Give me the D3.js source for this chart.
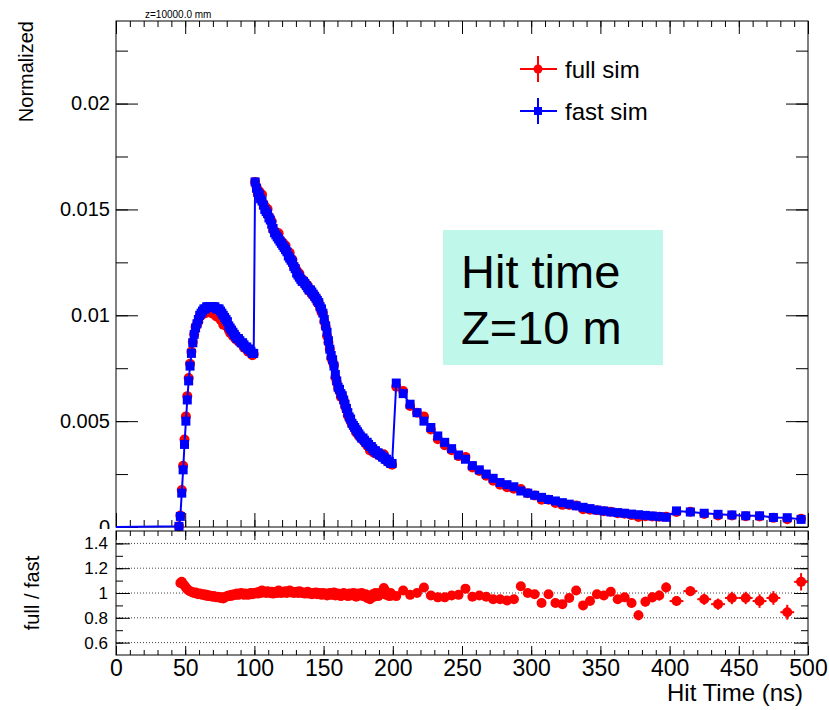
<!DOCTYPE html>
<html>
<head>
<meta charset="utf-8">
<script src="https://cdn.jsdelivr.net/npm/d3@7"></script>
<style>
  body { margin: 0; background: #fff; }
  text { font-family: "Liberation Sans", Arial, Helvetica, sans-serif; fill: #000; }
</style>
</head>
<body>
<div id="chart"></div>
<script>
// bin layout: three segments with different widths (ns)
var segStart = [45, 200, 400];
var segWidth = [1, 5, 10];

// fast sim, normalized, 1 ns bins 45..200
var fastDense = [
  0.00003, 0.0005, 0.0016, 0.0027, 0.0039,
  0.0050, 0.0060, 0.0069, 0.0076, 0.0082,
  0.0087, 0.0091, 0.0094, 0.0096, 0.0098,
  0.0100, 0.0101, 0.0102, 0.0103, 0.0103,
  0.0104, 0.0104, 0.0104, 0.0104, 0.0104,
  0.0104, 0.0104, 0.0103, 0.0103, 0.0103,
  0.0102, 0.0101, 0.0100, 0.0099, 0.0098,
  0.0097, 0.0095, 0.0094, 0.0093, 0.0092,
  0.0091, 0.0090, 0.0089, 0.0089, 0.0088,
  0.0087, 0.0087, 0.0086, 0.0085, 0.0085,
  0.0084, 0.0084, 0.0083, 0.0082, 0.0082,
  0.0163, 0.0160, 0.0158, 0.0157, 0.0155,
  0.0154, 0.0152, 0.0150, 0.0149, 0.0148,
  0.0146, 0.0145, 0.0143, 0.0141, 0.0139,
  0.0138, 0.0137, 0.0136, 0.0135, 0.0134,
  0.0133, 0.0132, 0.0131, 0.0130, 0.0128,
  0.0127, 0.0126, 0.0125, 0.0123, 0.0122,
  0.0120, 0.0119, 0.0118, 0.0117, 0.0116,
  0.0116, 0.0115, 0.0114, 0.0113, 0.0112,
  0.0112, 0.0111, 0.0110, 0.0109, 0.0108,
  0.0107, 0.0106, 0.0104, 0.0103, 0.0101,
  0.0098, 0.0095, 0.0092, 0.0088, 0.0084,
  0.0081, 0.0079, 0.0076, 0.0072, 0.0069,
  0.0066, 0.0065, 0.0063, 0.0062, 0.0060,
  0.0058, 0.0056, 0.0054, 0.0052, 0.0051,
  0.0049, 0.0048, 0.0047, 0.0046, 0.0045,
  0.0044, 0.0043, 0.0042, 0.0042, 0.0041,
  0.0040, 0.0040, 0.0039, 0.0038, 0.0038,
  0.0037, 0.0036, 0.0036, 0.0035, 0.0035,
  0.0034, 0.0034, 0.0033, 0.0033, 0.0032,
  0.0032, 0.0031, 0.0031, 0.0030, 0.0030
];
// 5 ns bins 200..400
var fastMid = [
  0.0068, 0.0063, 0.0058, 0.0054, 0.0050,
  0.0047, 0.0043, 0.0040, 0.0037, 0.0034,
  0.0032, 0.0029, 0.0027, 0.0025, 0.0023,
  0.0021, 0.0020, 0.0019, 0.0017, 0.0016,
  0.0015, 0.0014, 0.0013, 0.00123, 0.00115,
  0.00108, 0.0010, 0.00093, 0.00087, 0.0008,
  0.00076, 0.00071, 0.00068, 0.00065, 0.00061,
  0.00058, 0.00055, 0.00052, 0.00049, 0.00046
];
// 10 ns bins 400..500
var fastTail = [0.00076, 0.00071, 0.00065, 0.0006, 0.00057, 0.00053, 0.00053, 0.00045, 0.00044, 0.00036];

// full / fast ratio per bin (null = empty)
var ratioDense = [
  null, 1.08, 1.09, 1.07, 1.06,
  1.045, 1.03, 1.02, 1.015, 1.01,
  1.005, 1.0, 1.005, 0.995, 0.99,
  0.995, 0.99, 0.985, 0.99, 0.98,
  0.985, 0.975, 0.98, 0.975, 0.97,
  0.975, 0.97, 0.965, 0.97, 0.965,
  0.96, 0.965, 0.955, 0.965, 0.97,
  0.975, 0.98, 0.975, 0.985, 0.98,
  0.99, 0.985, 0.995, 0.985, 0.99,
  1.0, 0.99, 0.985, 0.995, 0.99,
  0.985, 0.995, 1.0, 0.99, 0.995,
  1.0, 1.005, 0.995, 1.01, 1.0,
  1.02, 1.005, 1.01, 1.0, 1.015,
  1.005, 1.0, 1.01, 0.995, 1.005,
  1.01, 1.0, 1.02, 1.005, 1.0,
  1.01, 1.005, 1.015, 1.0, 1.01,
  1.02, 1.005, 1.01, 1.0, 1.005,
  1.01, 1.0, 1.015, 1.005, 1.0,
  1.005, 0.995, 1.0, 1.01, 0.995,
  1.0, 0.99, 1.0, 0.995, 1.005,
  0.99, 1.0, 0.995, 0.985, 1.0,
  0.99, 0.995, 0.98, 0.99, 1.0,
  0.985, 0.99, 1.005, 0.98, 0.99,
  0.995, 0.985, 0.975, 0.99, 1.0,
  0.985, 0.99, 0.975, 0.995, 0.98,
  0.99, 1.0, 0.985, 0.97, 0.995,
  0.98, 0.99, 1.0, 0.975, 0.985,
  0.99, 0.96, 0.975, 0.95, 0.98,
  0.99, 0.97, 1.0, 0.985, 0.975,
  1.0, 0.99, 1.01, 1.04, 1.02,
  0.985, 0.99, 0.975, 1.0, 0.98
];
var ratioMid = [
  0.975, 1.02, 0.985, 1.0, 1.045,
  0.98, 0.965, 0.965, 0.98, 0.985,
  1.035, 0.97, 0.98, 0.97, 0.95,
  0.95, 0.94, 0.95, 1.055, 1.0,
  0.99, 0.92, 0.99, 0.92, 0.91,
  0.96, 1.02, 0.90, 0.935, 0.99,
  0.98, 1.01, 0.95, 0.965, 0.92,
  0.82, 0.93, 0.965, 0.98, 1.045
];
var ratioTail = [0.935, 1.015, 0.95, 0.91, 0.96, 0.96, 0.935, 0.96, 0.845, 1.09];

// ratio uncertainties
var ratioErrDense = 0.02;
var ratioErrMid = [
  0.02, 0.02, 0.02, 0.02, 0.02, 0.02, 0.02, 0.02, 0.02, 0.02,
  0.025, 0.025, 0.025, 0.025, 0.025, 0.025, 0.025, 0.025, 0.025, 0.025,
  0.03, 0.03, 0.03, 0.03, 0.03, 0.03, 0.03, 0.03, 0.03, 0.03,
  0.035, 0.035, 0.035, 0.035, 0.04, 0.04, 0.04, 0.04, 0.04, 0.04
];
var ratioErrTail = [0.04, 0.04, 0.045, 0.045, 0.05, 0.05, 0.055, 0.055, 0.06, 0.07];

var xTicks = d3.range(0, 501, 50);
var yTicks = [0, 0.005, 0.01, 0.015, 0.02];
var rTicks = [0.6, 0.8, 1, 1.2, 1.4];

var red = "#ff0000", blue = "#0000ff";

// build bins
var fastSegs = [fastDense, fastMid, fastTail],
    ratioSegs = [ratioDense, ratioMid, ratioTail],
    errSegs = [null, ratioErrMid, ratioErrTail];
var bins = [];
fastSegs.forEach(function(vals, s) {
    vals.forEach(function(v, i) {
        var r = ratioSegs[s][i];
        bins.push({
            x: segStart[s] + segWidth[s] * (i + 0.5),
            w: segWidth[s],
            fast: v,
            ratio: r,
            full: v * (r == null ? 1 : r),
            err: errSegs[s] ? errSegs[s][i] : ratioErrDense
        });
    });
});

var W = 829, H = 710;
var left = 116, right = 808;
var mainTop = 21, mainBot = 527;
var ratTop = 531, ratBot = 655;

var svg = d3.select("#chart").append("svg")
    .attr("width", W).attr("height", H);
svg.append("rect").attr("width", W).attr("height", H).attr("fill", "#fff");

var x = d3.scaleLinear().domain([0, 500]).range([left, right]);
var y = d3.scaleLinear().domain([0, 0.0239]).range([mainBot, mainTop]);
var yr = d3.scaleLinear().domain([0.5, 1.5]).range([ratBot, ratTop]);

//////////// main pad ////////////
var main = svg.append("g");

function tickAxis(g, axis) {
    g.call(axis);
    g.select(".domain").remove();
    g.selectAll(".tick line").attr("stroke", "#000");
    g.attr("font-family", null).attr("font-size", null);
}

main.append("g").attr("transform", "translate(0," + mainBot + ")")
    .call(tickAxis, d3.axisBottom(x).tickValues(xTicks).tickSize(-14).tickFormat(""));
main.append("g").attr("transform", "translate(0," + mainBot + ")")
    .call(tickAxis, d3.axisBottom(x).tickValues(d3.range(0, 501, 10)).tickSize(-7).tickFormat(""));
main.append("g").attr("transform", "translate(0," + mainTop + ")")
    .call(tickAxis, d3.axisTop(x).tickValues(xTicks).tickSize(-13).tickFormat(""));
main.append("g").attr("transform", "translate(0," + mainTop + ")")
    .call(tickAxis, d3.axisTop(x).tickValues(d3.range(0, 501, 10)).tickSize(-6).tickFormat(""));

// clip so the "0" label is cut by the ratio pad, as in ROOT
// (clip rect is in the label group's local coords, shifted by `left`)
svg.append("clipPath").attr("id", "mainclip")
    .append("rect").attr("x", -left).attr("y", 0).attr("width", W).attr("height", 529);

var yMinor = d3.range(0, 0.0239, 0.0025);
main.append("g").attr("class", "ylab").attr("transform", "translate(" + left + ",0)")
    .attr("clip-path", "url(#mainclip)")
    .call(tickAxis, d3.axisLeft(y).tickValues(yTicks).tickSize(-22).tickPadding(6)
        .tickFormat(function(d) { return d === 0 ? "0" : String(+d.toFixed(4)); }));
main.append("g").attr("transform", "translate(" + left + ",0)")
    .call(tickAxis, d3.axisLeft(y).tickValues(yMinor).tickSize(-12).tickFormat(""));
main.append("g").attr("transform", "translate(" + right + ",0)")
    .call(tickAxis, d3.axisRight(y).tickValues(yTicks).tickSize(-22).tickFormat(""));
main.append("g").attr("transform", "translate(" + right + ",0)")
    .call(tickAxis, d3.axisRight(y).tickValues(yMinor).tickSize(-12).tickFormat(""));
main.selectAll(".ylab .tick text").style("font-size", "20px");

main.append("rect")
    .attr("x", left).attr("y", mainTop)
    .attr("width", right - left).attr("height", mainBot - mainTop)
    .attr("fill", "none").attr("stroke", "#000").attr("stroke-width", 1);

// full sim circles (under)
main.selectAll(".full")
    .data(bins.filter(function(d) { return d.full > 0; }))
    .enter().append("circle")
    .attr("class", "full")
    .attr("cx", function(d) { return x(d.x); })
    .attr("cy", function(d) { return y(d.full); })
    .attr("r", 5)
    .attr("fill", red);

// fast sim line + squares
var linePts = [[0, 0]].concat(bins.map(function(d) { return [d.x, d.fast]; }));
main.append("path")
    .attr("d", d3.line().x(function(d) { return x(d[0]); }).y(function(d) { return y(d[1]); })(linePts))
    .attr("fill", "none")
    .attr("stroke", blue)
    .attr("stroke-width", 2);

main.selectAll(".fast")
    .data(bins)
    .enter().append("rect")
    .attr("class", "fast")
    .attr("x", function(d) { return x(d.x) - 4.5; })
    .attr("y", function(d) { return y(d.fast) - 4.5; })
    .attr("width", 9).attr("height", 9)
    .attr("fill", blue);

// small title
main.append("text").attr("x", 145).attr("y", 18)
    .style("font-size", "10px").text("z=10000.0 mm");

// y title
main.append("text")
    .attr("transform", "translate(33," + mainTop + ") rotate(-90)")
    .attr("text-anchor", "end")
    .style("font-size", "20px")
    .text("Normalized");

// legend
var legend = main.append("g");
var legendItems = [
    {label: "full sim", color: red, shape: "circle", y: 69},
    {label: "fast sim", color: blue, shape: "square", y: 111}
];
var lg = legend.selectAll("g").data(legendItems).enter().append("g");
lg.append("line").attr("x1", 520).attr("x2", 557)
    .attr("y1", function(d) { return d.y; }).attr("y2", function(d) { return d.y; })
    .attr("stroke", function(d) { return d.color; }).attr("stroke-width", 2);
lg.append("line").attr("x1", 538).attr("x2", 538)
    .attr("y1", function(d) { return d.y - 13; }).attr("y2", function(d) { return d.y + 13; })
    .attr("stroke", function(d) { return d.color; }).attr("stroke-width", 2);
lg.each(function(d) {
    var g = d3.select(this);
    if (d.shape === "circle") {
        g.append("circle").attr("cx", 538).attr("cy", d.y).attr("r", 4.5).attr("fill", d.color);
    } else {
        g.append("rect").attr("x", 534).attr("y", d.y - 4).attr("width", 8).attr("height", 8).attr("fill", d.color);
    }
});
lg.append("text").attr("x", 565).attr("y", function(d) { return d.y + 9; })
    .style("font-size", "24px")
    .text(function(d) { return d.label; });

// annotation box
main.append("rect").attr("x", 443).attr("y", 230).attr("width", 220).attr("height", 135)
    .attr("fill", "#bff8ea");
main.append("text").attr("x", 461).attr("y", 288).style("font-size", "47px").text("Hit time");
main.append("text").attr("x", 461).attr("y", 344).style("font-size", "47px").text("Z=10 m");

//////////// ratio pad ////////////
var rat = svg.append("g");

rat.selectAll(".grid")
    .data(rTicks).enter().append("line")
    .attr("x1", left).attr("x2", right)
    .attr("y1", function(d) { return yr(d); }).attr("y2", function(d) { return yr(d); })
    .attr("stroke", "#444").attr("stroke-width", 1).attr("stroke-dasharray", "1,2");

rat.append("g").attr("class", "xlab").attr("transform", "translate(0," + ratBot + ")")
    .call(tickAxis, d3.axisBottom(x).tickValues(xTicks).tickSize(-9).tickPadding(5).tickFormat(d3.format("d")));
rat.append("g").attr("transform", "translate(0," + ratBot + ")")
    .call(tickAxis, d3.axisBottom(x).tickValues(d3.range(0, 501, 10)).tickSize(-5).tickFormat(""));
rat.append("g").attr("transform", "translate(0," + ratTop + ")")
    .call(tickAxis, d3.axisTop(x).tickValues(xTicks).tickSize(-9).tickFormat(""));
rat.append("g").attr("transform", "translate(0," + ratTop + ")")
    .call(tickAxis, d3.axisTop(x).tickValues(d3.range(0, 501, 10)).tickSize(-5).tickFormat(""));
rat.selectAll(".xlab .tick text").style("font-size", "23px");

var rMinor = d3.range(0.6, 1.5, 0.1);
rat.append("g").attr("class", "rlab").attr("transform", "translate(" + left + ",0)")
    .call(tickAxis, d3.axisLeft(yr).tickValues(rTicks).tickSize(-14).tickPadding(8).tickFormat(function(d) { return String(d); }));
rat.append("g").attr("transform", "translate(" + left + ",0)")
    .call(tickAxis, d3.axisLeft(yr).tickValues(rMinor).tickSize(-7).tickFormat(""));
rat.append("g").attr("transform", "translate(" + right + ",0)")
    .call(tickAxis, d3.axisRight(yr).tickValues(rTicks).tickSize(-14).tickFormat(""));
rat.append("g").attr("transform", "translate(" + right + ",0)")
    .call(tickAxis, d3.axisRight(yr).tickValues(rMinor).tickSize(-7).tickFormat(""));
rat.selectAll(".rlab .tick text").style("font-size", "17px");

rat.append("rect")
    .attr("x", left).attr("y", ratTop)
    .attr("width", right - left).attr("height", ratBot - ratTop)
    .attr("fill", "none").attr("stroke", "#000").attr("stroke-width", 1);

var rbins = bins.filter(function(d) { return d.ratio != null; });
var rp = rat.selectAll(".rp").data(rbins).enter().append("g").attr("class", "rp");
rp.append("line")
    .attr("x1", function(d) { return x(d.x); }).attr("x2", function(d) { return x(d.x); })
    .attr("y1", function(d) { return yr(d.ratio - d.err); })
    .attr("y2", function(d) { return yr(d.ratio + d.err); })
    .attr("stroke", red).attr("stroke-width", 2);
rp.append("line")
    .attr("x1", function(d) { return x(d.x - d.w / 2); }).attr("x2", function(d) { return x(d.x + d.w / 2); })
    .attr("y1", function(d) { return yr(d.ratio); }).attr("y2", function(d) { return yr(d.ratio); })
    .attr("stroke", red).attr("stroke-width", 2);
rp.append("circle")
    .attr("cx", function(d) { return x(d.x); })
    .attr("cy", function(d) { return yr(d.ratio); })
    .attr("r", 5)
    .attr("fill", red);

rat.append("text")
    .attr("transform", "translate(39," + yr(1.0) + ") rotate(-90)")
    .attr("text-anchor", "middle")
    .style("font-size", "20px")
    .text("full / fast");

rat.append("text")
    .attr("x", 803).attr("y", 701)
    .attr("text-anchor", "end")
    .style("font-size", "24px")
    .text("Hit Time (ns)");
</script>
</body>
</html>
